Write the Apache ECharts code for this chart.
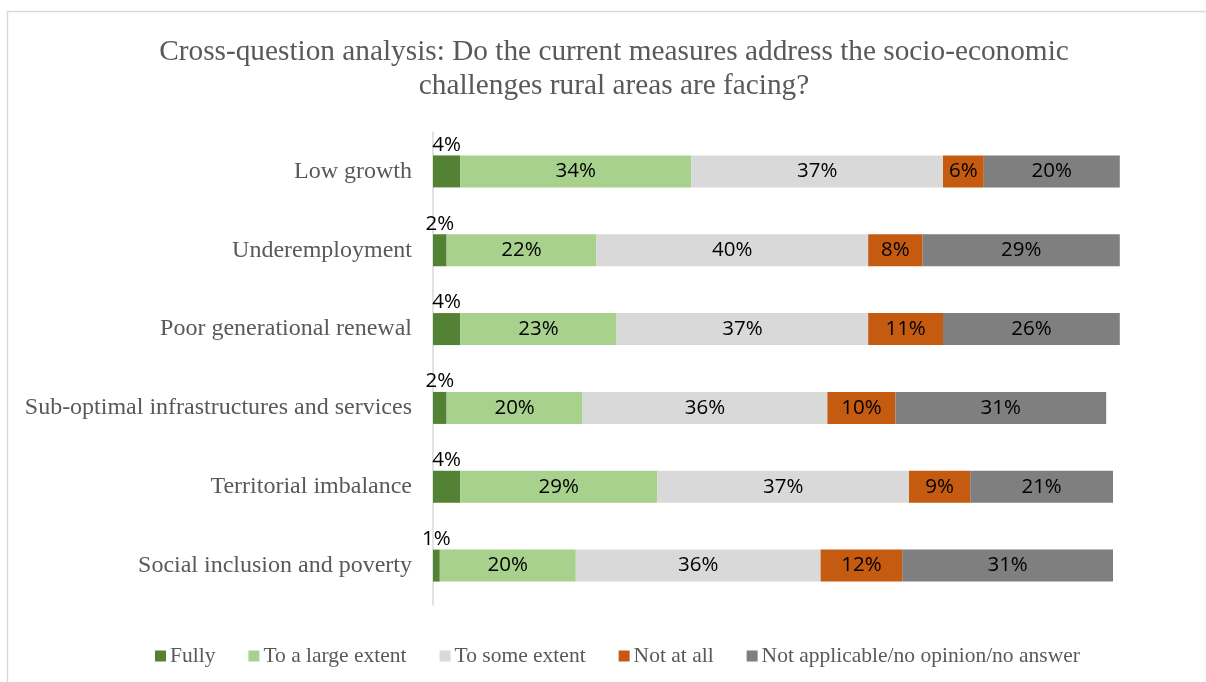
<!DOCTYPE html>
<html>
<head>
<meta charset="utf-8">
<title>Cross-question analysis</title>
<script src="https://cdn.jsdelivr.net/npm/echarts@6/dist/echarts.min.js"></script>
<style>
  html, body { margin: 0; padding: 0; background: #fff; }
  #chart { width: 1206px; height: 682px; }
</style>
</head>
<body>
<div id="chart"></div>
<script>
// Challenges, listed top to bottom
const categories = [
  'Low growth',
  'Underemployment',
  'Poor generational renewal',
  'Sub-optimal infrastructures and services',
  'Territorial imbalance',
  'Social inclusion and poverty'
];

// Share of answers (%) per challenge
const fully        = [4, 2, 4, 2, 4, 1];
const largeExtent  = [34, 22, 23, 20, 29, 20];
const someExtent   = [37, 40, 37, 36, 37, 36];
const notAtAll     = [6, 8, 11, 10, 9, 12];
const notApplicable = [20, 29, 26, 31, 21, 31];

const seriesNames = [
  'Fully',
  'To a large extent',
  'To some extent',
  'Not at all',
  'Not applicable/no opinion/no answer'
];
const seriesData = [fully, largeExtent, someExtent, notAtAll, notApplicable];
const seriesColors = ['#548235', '#A9D18E', '#D9D9D9', '#C55A11', '#7F7F7F'];

const serif = '"Liberation Serif", "Times New Roman", serif';
const sans = '"Open Sans", "Liberation Sans", sans-serif';

const series = seriesNames.map((name, i) => ({
  name: name,
  type: 'bar',
  stack: 'total',
  data: seriesData[i],
  barWidth: 32,
  clip: false,
  itemStyle: { color: seriesColors[i] },
  label: {
    show: true,
    position: i === 0 ? 'top' : 'inside',
    distance: 0,
    formatter: '{c}%',
    color: '#000',
    fontFamily: sans,
    fontSize: 20.5
  },
  emphasis: { disabled: true }
}));

const chart = echarts.init(document.getElementById('chart'), null, { renderer: 'canvas' });
chart.setOption({
  animation: false,
  backgroundColor: '#fff',
  graphic: [{
    type: 'rect',
    shape: { x: 7.5, y: 11.5, width: 1300, height: 800 },
    style: { fill: 'none', stroke: '#D9D9D9', lineWidth: 1.5 },
    silent: true,
    z: -10
  }],
  title: {
    text: 'Cross-question analysis: Do the current measures address the socio-economic\nchallenges rural areas are facing?',
    left: 609,
    top: 30,
    textAlign: 'center',
    textStyle: {
      fontFamily: serif,
      fontSize: 29.3,
      fontWeight: 'normal',
      color: '#595959',
      lineHeight: 34
    }
  },
  legend: {
    data: seriesNames,
    left: 150,
    top: 640,
    itemWidth: 11,
    itemHeight: 11,
    itemGap: 33,
    icon: 'rect',
    textStyle: {
      fontFamily: serif,
      fontSize: 21.5,
      color: '#595959',
      padding: [0, 0, 0, -1]
    }
  },
  grid: {
    left: 433,
    right: 93,
    top: 132,
    bottom: 77,
    containLabel: false
  },
  xAxis: {
    type: 'value',
    min: 0,
    max: 100,
    show: false
  },
  yAxis: {
    type: 'category',
    data: categories,
    inverse: true,
    axisLine: { show: true, lineStyle: { color: '#D9D9D9', width: 1.5 } },
    axisTick: { show: false },
    axisLabel: {
      margin: 21,
      fontFamily: serif,
      fontSize: 24,
      color: '#595959'
    }
  },
  series: series
});
</script>
</body>
</html>
